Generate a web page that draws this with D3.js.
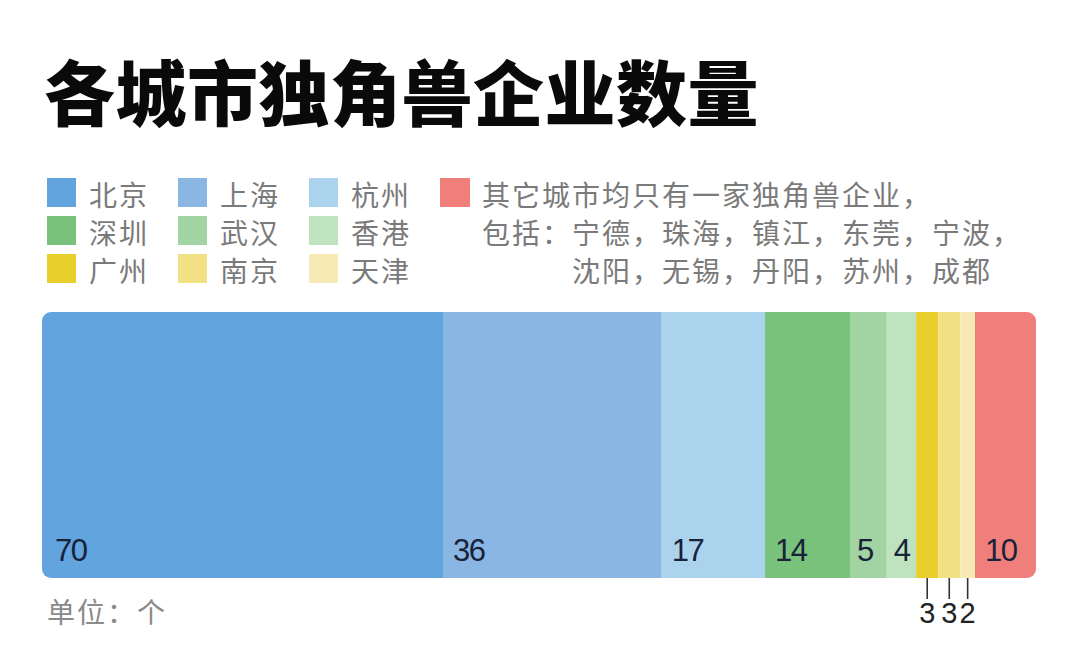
<!DOCTYPE html>
<html><head><meta charset="utf-8">
<script src="https://cdn.jsdelivr.net/npm/d3@7"></script>
<style>body{margin:0;background:#fff}</style>
</head><body><svg id="c" width="1080" height="646"></svg>
<script>
// ---- data ----
const title = "各城市独角兽企业数量";
const cities = ["北京","上海","杭州","深圳","武汉","香港","广州","南京","天津","其它"];
const values = [70,36,17,14,5,4,3,3,2,10];
const colors = ["#62a4dd","#89b6e2","#acd3ee","#79c27b","#a2d3a2","#bee3be","#e9cf2b","#f2e084","#f8eab4","#f07f7b"];
const otherNote = ["其它城市均只有一家独角兽企业，","包括：宁德，珠海，镇江，东莞，宁波，","沈阳，无锡，丹阳，苏州，成都"];
const unitLabel = "单位：个";

// ---- layout ----
const svg = d3.select("#c");
const W = 1080, H = 646;
svg.append("rect").attr("width", W).attr("height", H).attr("fill", "#fff");
const cjk = "'Noto Sans CJK SC','Noto Sans',sans-serif";
const num = "'Liberation Sans',Arial,sans-serif";

// title
svg.append("text").attr("x", 44).attr("y", 89)
  .attr("dominant-baseline", "central")
  .attr("font-family", cjk).attr("font-weight", 900).attr("font-size", 71)
  .style("letter-spacing", "0.5px")
  .attr("fill", "#0a0a0a").text(title);

// legend
const legendItems = cities.slice(0, 9).map((c, i) => ({c, color: colors[i], row: Math.floor(i / 3), col: i % 3}));
const lg = svg.append("g");
const lgX0 = 47, lgColW = 131, lgY0 = 178, lgRowH = 38, sw = 29;
const li = lg.selectAll("g.item").data(legendItems).join("g")
  .attr("transform", d => `translate(${lgX0 + d.col * lgColW},${lgY0 + d.row * lgRowH})`);
li.append("rect").attr("width", sw).attr("height", sw).attr("fill", d => d.color);
li.append("text").attr("x", 42).attr("y", sw / 2 + 1).attr("dominant-baseline", "central")
  .attr("font-family", cjk).attr("font-size", 28).style("letter-spacing", "2px")
  .attr("fill", "#7a7a7a").text(d => d.c);

// other legend
const og = svg.append("g").attr("transform", `translate(${lgX0 + 3 * lgColW},${lgY0})`);
og.append("rect").attr("width", sw + 1).attr("height", sw).attr("fill", colors[9]);
og.selectAll("text").data(otherNote).join("text")
  .attr("x", (d, i) => i === 2 ? 42 + 90 : 42)
  .attr("y", (d, i) => sw / 2 + 1 + i * lgRowH)
  .attr("dominant-baseline", "central")
  .attr("font-family", cjk).attr("font-size", 28).style("letter-spacing", "2px")
  .attr("fill", "#7a7a7a").text(d => d);

// bar
const total = d3.sum(values);
const cum = d3.cumsum(values);
const segs = values.map((v, i) => ({v, city: cities[i], color: colors[i], x0: cum[i] - v, x1: cum[i]}));
const bx0 = 42, bx1 = 1036, by0 = 312, by1 = 578;
// the reference is not strictly proportional: the largest segment is compressed and the
// smallest ones are widened; a piecewise-linear scale reproduces that
const x = d3.scaleLinear().domain([0, cum[0], cum[3], cum[8], total]).range([bx0, 443, 850, 975, bx1]);

svg.append("clipPath").attr("id", "barclip")
  .append("rect").attr("x", x(0)).attr("y", by0).attr("width", x(total) - x(0)).attr("height", by1 - by0)
  .attr("rx", 9).attr("ry", 9);

const bar = svg.append("g").attr("clip-path", "url(#barclip)");
bar.selectAll("rect").data(segs).join("rect")
  .attr("x", d => x(d.x0)).attr("y", by0)
  .attr("width", d => x(d.x1) - x(d.x0)).attr("height", by1 - by0)
  .attr("fill", d => d.color);

// inside labels
const inside = segs.filter(d => d.v >= 4);
svg.selectAll("text.in").data(inside).join("text").attr("class", "in")
  .attr("x", d => x(d.x0) + (d.v >= 50 ? 13 : d.v >= 10 ? 10 : 7)).attr("y", 561)
  .attr("font-family", num).attr("font-size", 31).style("letter-spacing", "-1.5px")
  .attr("fill", "#18223a").text(d => d.v);

// outside labels for tiny segments
const outside = segs.filter(d => d.v < 4);
const og2 = svg.selectAll("g.out").data(outside).join("g").attr("class", "out")
  .attr("transform", d => `translate(${(x(d.x0) + x(d.x1)) / 2},0)`);
og2.append("line").attr("y1", by1).attr("y2", 599).attr("stroke", "#333").attr("stroke-width", 1.6);
og2.append("text").attr("y", 623).attr("text-anchor", "middle")
  .attr("font-family", num).attr("font-size", 29).attr("fill", "#222").text(d => d.v);

// unit
svg.append("text").attr("x", 47).attr("y", 611).attr("dominant-baseline", "central")
  .attr("font-family", cjk).attr("font-size", 28).style("letter-spacing", "2px")
  .attr("fill", "#8a8a8a").text(unitLabel);
</script></body></html>
